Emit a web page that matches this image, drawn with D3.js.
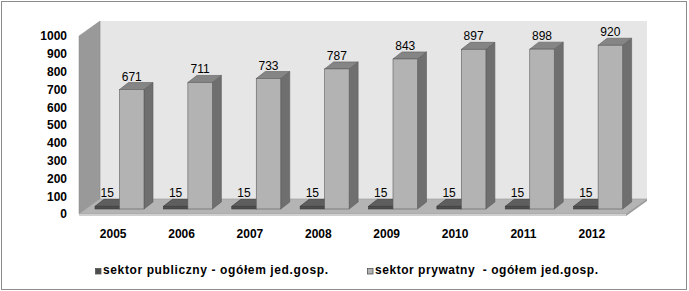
<!DOCTYPE html>
<html>
<head>
<meta charset="utf-8">
<script src="https://cdn.jsdelivr.net/npm/d3@7"></script>
<style>
  body { margin: 0; background: #fff; }
  text { font-family: "Liberation Sans", Arial, sans-serif; }
</style>
</head>
<body>
<div class="chart"></div>
<script>
// data
const years = ["2005", "2006", "2007", "2008", "2009", "2010", "2011", "2012"];
const seriesNames = ["sektor publiczny - ogółem jed.gosp.", "sektor prywatny  - ogółem jed.gosp."];
const publicValues = [15, 15, 15, 15, 15, 15, 15, 15];
const privateValues = [671, 711, 733, 787, 843, 897, 898, 920];
const yTicks = [0, 100, 200, 300, 400, 500, 600, 700, 800, 900, 1000];

const W = 689, H = 291;
// 3d offsets
const depth = { dx: 21, dy: -15 };   // whole floor / walls
const barOff = { dx: 7, dy: -5 };    // bar front face behind front plane
const barDepth = { dx: 9, dy: -7 };

const svg = d3.select(".chart").append("svg")
    .attr("width", W)
    .attr("height", H);

// outer frame
svg.append("rect")
    .attr("x", 1.5).attr("y", 1.5)
    .attr("width", W - 4).attr("height", H - 3)
    .attr("fill", "#fff")
    .attr("stroke", "#8c8c8c");

const x = d3.scaleBand().domain(years).range([79, 626]);
const inner = d3.scaleBand().domain([0, 1]).range([9, 58]);
const y = d3.scaleLinear().domain([0, 1000]).range([214, 36]);

const x0 = x.range()[0], x1 = x.range()[1];
const yb = y(0), yt = y(1000);

const pts = p => p.map(d => d.join(",")).join(" ");

// back wall
svg.append("polygon")
    .attr("points", pts([[x0 + depth.dx, yt + depth.dy], [x1 + depth.dx, yt + depth.dy],
        [x1 + depth.dx, yb + depth.dy], [x0 + depth.dx, yb + depth.dy]]))
    .attr("fill", "#e6e6e6");

// side wall
svg.append("polygon")
    .attr("points", pts([[x0, yt], [x0 + depth.dx, yt + depth.dy],
        [x0 + depth.dx, yb + depth.dy], [x0, yb]]))
    .attr("fill", "#999999")
    .attr("stroke", "#8a8a8a").attr("stroke-width", 0.5);
svg.append("line")
    .attr("x1", x0 + depth.dx + 0.5).attr("x2", x0 + depth.dx + 0.5)
    .attr("y1", yt + depth.dy).attr("y2", yb + depth.dy)
    .attr("stroke", "#c8c8c8");

// floor
svg.append("polygon")
    .attr("points", pts([[x0, yb], [x0 + depth.dx, yb + depth.dy],
        [x1 + depth.dx, yb + depth.dy], [x1, yb]]))
    .attr("fill", "#b4b4b4")
    .attr("stroke", "#a0a0a0").attr("stroke-width", 0.7);
svg.append("polygon")
    .attr("points", pts([[x0, yb], [x1, yb], [x1, yb + 2], [x0, yb + 2]]))
    .attr("fill", "#cfcfcf");
svg.append("polygon")
    .attr("points", pts([[x1, yb], [x1 + depth.dx, yb + depth.dy],
        [x1 + depth.dx, yb + depth.dy + 2], [x1, yb + 2]]))
    .attr("fill", "#9a9a9a");

const series = [
    { values: publicValues, front: "#4d4d4d", top: "#5e5e5e", side: "#3c3c3c", stroke: "#3a3a3a" },
    { values: privateValues, front: "#b3b3b3", top: "#858585", side: "#6f6f6f", stroke: "#5c5c5c" }
];

function drawBar(g, xl, w, v, s) {
    const xa = xl + barOff.dx;
    const xb = xa + w;
    const base = y(0) + barOff.dy;
    const top = y(v) + barOff.dy;
    // side
    g.append("polygon")
        .attr("points", pts([[xb, top], [xb + barDepth.dx, top + barDepth.dy],
            [xb + barDepth.dx, base + barDepth.dy], [xb, base]]))
        .attr("fill", s.side).attr("stroke", s.stroke).attr("stroke-width", 0.6);
    // top
    g.append("polygon")
        .attr("points", pts([[xa, top], [xa + barDepth.dx, top + barDepth.dy],
            [xb + barDepth.dx, top + barDepth.dy], [xb, top]]))
        .attr("fill", s.top).attr("stroke", s.stroke).attr("stroke-width", 0.6);
    // front
    g.append("rect")
        .attr("x", xa).attr("y", top)
        .attr("width", w).attr("height", base - top)
        .attr("fill", s.front).attr("stroke", s.stroke).attr("stroke-width", 0.6);
    // label
    g.append("text")
        .attr("x", xa + w / 2)
        .attr("y", top + barDepth.dy - 2)
        .attr("text-anchor", "middle")
        .attr("font-size", 12)
        .attr("fill", "#000")
        .text(v);
}

years.forEach((yr, i) => {
    const g = svg.append("g");
    series.forEach((s, k) => {
        drawBar(g, x(yr) + inner(k), inner.bandwidth(), s.values[i], s);
    });
});

// y axis labels
const yAxis = d3.axisLeft(y).tickValues(yTicks).tickFormat(d3.format("d")).tickSize(0).tickPadding(12);
const ya = svg.append("g")
    .attr("transform", "translate(" + x0 + ",0)")
    .call(yAxis);
ya.select(".domain").remove();
ya.selectAll("text")
    .attr("font-family", "Liberation Sans, Arial, sans-serif")
    .attr("font-size", 12).attr("font-weight", "bold").attr("fill", "#000");

// x axis labels
const xAxis = d3.axisBottom(x).tickSize(0).tickPadding(15.5);
const xa = svg.append("g")
    .attr("transform", "translate(0," + yb + ")")
    .call(xAxis);
xa.select(".domain").remove();
xa.selectAll("text")
    .attr("font-family", "Liberation Sans, Arial, sans-serif")
    .attr("font-size", 12).attr("font-weight", "bold").attr("fill", "#000");

// legend
const legendX = [95, 367];
const legendLen = [225, 223];
seriesNames.forEach((name, k) => {
    const lg = svg.append("g").attr("transform", "translate(" + legendX[k] + ",268)");
    lg.append("rect")
        .attr("x", 0.5).attr("y", 0.5)
        .attr("width", 5.5).attr("height", 5.5)
        .attr("fill", series[k].front)
        .attr("stroke", "#555").attr("stroke-width", 0.8);
    lg.append("text")
        .attr("x", 8).attr("y", 6)
        .attr("font-size", 12).attr("font-weight", "bold")
        .attr("fill", "#000")
        .attr("textLength", legendLen[k])
        .attr("lengthAdjust", "spacing")
        .style("white-space", "pre")
        .text(name);
});
</script>
</body>
</html>
